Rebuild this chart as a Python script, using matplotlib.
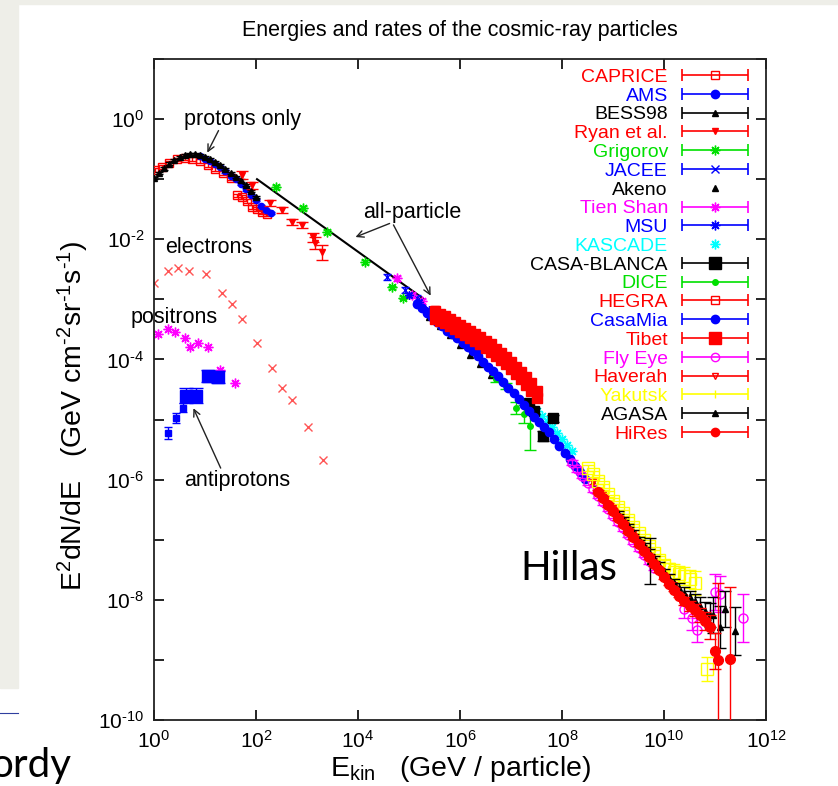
import numpy as np
import matplotlib
matplotlib.use('Agg')
import matplotlib.pyplot as plt
from matplotlib.patches import Rectangle
from matplotlib.lines import Line2D
from matplotlib.legend_handler import HandlerErrorbar
from matplotlib.container import ErrorbarContainer
from matplotlib.ticker import NullLocator

plt.rcParams['font.family'] = ['Liberation Sans', 'DejaVu Sans']
plt.rcParams['mathtext.default'] = 'regular'

# all values are log10(E / GeV) and log10(E^2 dN/dE)
# ---- low energy, protons only
caprice_lx = [0.02, 0.15, 0.3, 0.45, 0.6, 0.75, 0.9, 1.05, 1.2, 1.35, 1.5, 1.62, 1.72, 1.82, 1.92, 2.02, 2.12, 2.22]
caprice_ly = [-0.85, -0.8, -0.73, -0.67, -0.65, -0.66, -0.7, -0.76, -0.83, -0.9, -0.98, -1.27, -1.3, -1.36, -1.46, -1.5, -1.55, -1.58]
ams_lx = [0.9, 1.0, 1.1, 1.2, 1.3, 1.4, 1.5, 1.6, 1.7, 1.8, 1.9, 2.0, 2.1, 2.2, 2.3]
ams_ly = [-0.62, -0.66, -0.7, -0.75, -0.8, -0.87, -0.94, -1.0, -1.08, -1.17, -1.26, -1.35, -1.45, -1.52, -1.56]
bess_lx = [0.0, 0.1, 0.2, 0.3, 0.4, 0.5, 0.6, 0.7, 0.8, 0.9, 1.0, 1.1, 1.2, 1.3, 1.4, 1.5, 1.6, 1.7, 1.8, 1.9, 2.0]
bess_ly = [-0.98, -0.9, -0.82, -0.74, -0.68, -0.63, -0.6, -0.58, -0.58, -0.6, -0.63, -0.67, -0.71, -0.76, -0.83, -0.9, -0.96, -1.02, -1.1, -1.2, -1.3]
ryan_lx = [1.72, 1.92, 2.27, 2.5, 2.7, 2.9, 3.12, 3.15, 3.3]
ryan_ly = [-0.93, -1.1, -1.4, -1.52, -1.72, -1.77, -1.97, -2.07, -2.22]
ryan_err = [0.06, 0.06, 0.05, 0.05, 0.05, 0.05, 0.08, 0.1, 0.12]
grig_lx = [2.4, 2.93, 3.39, 4.14, 4.67, 4.88]
grig_ly = [-1.13, -1.48, -1.88, -2.38, -2.8, -2.97]

allpart_lx = [2.02, 5.3]
allpart_ly = [-1.0, -3.0]

# ---- electrons, positrons, antiprotons
elec_lx = [0.0, 0.27, 0.47, 0.69, 1.02, 1.33, 1.53, 1.72, 2.02, 2.31, 2.51, 2.71, 3.02, 3.31]
elec_ly = [-2.72, -2.52, -2.47, -2.52, -2.57, -2.9, -3.07, -3.32, -3.73, -4.15, -4.47, -4.68, -5.13, -5.68]
posi_lx = [0.08, 0.27, 0.41, 0.61, 0.7, 0.86, 1.06, 1.29, 1.59]
posi_ly = [-3.57, -3.5, -3.55, -3.65, -3.8, -3.73, -3.8, -4.18, -4.4]
pbar_lx = [0.27, 0.43, 0.57]
pbar_ly = [-5.23, -4.97, -4.8]
pbar_err = [0.1, 0.08, 0.07]
pbar_big_lx = [0.62, 0.82, 1.05, 1.25]
pbar_big_ly = [-4.6, -4.6, -4.27, -4.3]
pbar_big_err = [0.12, 0.12, 0.1, 0.1]

# ---- high energy, all-particle
jacee_lx = [4.57, 4.92, 5.15]
jacee_ly = [-2.63, -2.85, -2.98]
tien_lx = [4.76, 5.06, 5.25]
tien_ly = [-2.65, -2.93, -3.03]
msu_lx = [5.0, 5.2, 5.4, 5.6, 5.8, 6.0, 6.2, 6.4]
msu_ly = [-2.92, -3.05, -3.18, -3.3, -3.42, -3.55, -3.7, -3.85]
akeno_lx = [5.4, 5.6, 5.8, 6.0, 6.2, 6.4, 6.6, 8.4, 8.6, 8.8, 9.0, 9.2, 9.4]
akeno_ly = [-3.3, -3.45, -3.6, -3.76, -3.92, -4.08, -4.26, -5.85, -6.06, -6.28, -6.5, -6.72, -6.93]
kascade_lx = [7.5, 7.6, 7.7, 7.8, 7.9, 8.0, 8.1, 8.2]
kascade_ly = [-4.85, -4.94, -5.03, -5.12, -5.22, -5.32, -5.42, -5.52]
casab_lx = [7.35, 7.45, 7.63, 7.82]
casab_ly = [-4.72, -4.85, -5.27, -4.98]
casab_err = [0.05, 0.05, 0.08, 0.06]
dice_lx = [6.7, 6.9, 7.1, 7.25, 7.37]
dice_ly = [-4.32, -4.45, -4.8, -4.9, -5.1]
dice_err = [0.05, 0.05, 0.1, 0.15, 0.4]
hegra_lx = [5.5, 5.7, 5.9, 6.1, 6.3, 6.5]
hegra_ly = [-3.18, -3.28, -3.38, -3.5, -3.62, -3.74]
casamia_lx = [5.15, 5.25, 5.35, 5.45, 5.55, 5.65, 5.75, 5.85, 5.95, 6.05, 6.15, 6.25, 6.35, 6.45, 6.55, 6.65, 6.75,
              6.85, 6.95, 7.05, 7.15, 7.25, 7.35, 7.45, 7.55, 7.65, 7.75, 7.85, 7.95, 8.05, 8.15, 8.25, 8.35, 8.45]
casamia_ly = [-3.08, -3.15, -3.22, -3.3, -3.38, -3.45, -3.52, -3.58, -3.65, -3.72, -3.79, -3.86, -3.94, -4.04, -4.12,
              -4.2, -4.28, -4.37, -4.47, -4.56, -4.66, -4.76, -4.86, -4.96, -5.04, -5.12, -5.21, -5.32, -5.44, -5.55,
              -5.66, -5.77, -5.88, -5.99]
tibet_lx = [5.5, 5.6, 5.7, 5.8, 5.9, 6.0, 6.1, 6.2, 6.3, 6.4, 6.5, 6.6, 6.7, 6.8, 6.9, 7.0, 7.1, 7.2, 7.3, 7.4, 7.5,
            5.5, 5.6, 5.7, 5.8, 5.9, 6.0, 6.1, 6.2, 6.3, 6.4, 6.5, 6.6, 6.7, 6.8, 6.9, 7.0, 7.1, 7.2, 7.3, 7.4, 7.5]
tibet_ly = [-3.2, -3.24, -3.28, -3.32, -3.37, -3.42, -3.47, -3.52, -3.57, -3.63, -3.69, -3.75, -3.82, -3.89, -3.96,
            -4.04, -4.12, -4.21, -4.3, -4.4, -4.52,
            -3.32, -3.36, -3.4, -3.44, -3.49, -3.54, -3.59, -3.64, -3.69, -3.75, -3.81, -3.87, -3.94, -4.01, -4.08,
            -4.16, -4.24, -4.33, -4.42, -4.52, -4.64]
flyeye_lx = [8.2, 8.3, 8.4, 8.5, 8.6, 8.7, 8.8, 8.9, 9.0, 9.1, 9.2, 9.3, 9.4, 9.5, 9.6, 9.7, 9.8,
             10.4, 10.55, 10.65, 11.0, 11.1, 11.55]
flyeye_ly = [-5.72, -5.83, -5.94, -6.05, -6.16, -6.27, -6.38, -6.49, -6.6, -6.71, -6.81, -6.92, -7.03, -7.14, -7.25,
             -7.36, -7.47, -8.15, -8.3, -8.5, -7.87, -7.9, -8.3]
flyeye_err = [0.04] * 17 + [0.15, 0.2, 0.2, 0.3, 0.3, 0.4]
haverah_lx = [8.6, 8.8, 9.0, 9.2, 9.4, 9.6, 9.8, 10.0, 10.2, 10.4, 10.6]
haverah_ly = [-6.04, -6.26, -6.48, -6.69, -6.91, -7.13, -7.35, -7.57, -7.76, -7.95, -8.1]
yakutsk_lx = [8.5, 8.6, 8.7, 8.8, 8.9, 9.0, 9.1, 9.2, 9.3, 9.4, 9.5, 9.6, 9.7, 9.8, 9.9, 10.0, 10.1, 10.2, 10.3,
              10.4, 10.5, 10.6, 10.85]
yakutsk_ly = [-5.8, -5.91, -6.02, -6.13, -6.24, -6.35, -6.46, -6.56, -6.67, -6.78, -6.89, -7.0, -7.11, -7.22, -7.33,
              -7.42, -7.48, -7.53, -7.57, -7.6, -7.65, -7.72, -9.15]
yakutsk_err = [0.05] * 14 + [0.06, 0.08, 0.1, 0.12, 0.14, 0.15, 0.15, 0.2, 0.2]
agasa_lx = [9.1, 9.2, 9.3, 9.4, 9.5, 9.6, 9.7, 9.72, 9.8, 9.9, 10.0, 10.1, 10.2, 10.3, 10.4, 10.5, 10.6, 10.7, 10.8,
            10.9, 10.96, 11.1, 11.2, 11.4]
agasa_ly = [-6.55, -6.65, -6.76, -6.87, -6.98, -7.09, -7.2, -7.35, -7.31, -7.42, -7.53, -7.63, -7.72, -7.8, -7.88,
            -7.95, -8.02, -8.1, -8.18, -8.25, -8.25, -8.45, -8.15, -8.52]
agasa_err = [0.03, 0.03, 0.03, 0.03, 0.03, 0.03, 0.04, 0.38, 0.04, 0.05, 0.05, 0.06, 0.07, 0.08, 0.1, 0.1, 0.12,
             0.14, 0.15, 0.2, 0.3, 0.35, 0.3, 0.4]
hires_lx = [8.7, 8.8, 8.9, 9.0, 9.1, 9.2, 9.3, 9.4, 9.5, 9.6, 9.7, 9.8, 9.9, 10.0, 10.1, 10.2, 10.3, 10.4, 10.5,
            10.6, 10.7, 10.8, 10.9, 11.0, 11.05, 11.3]
hires_ly = [-6.2, -6.31, -6.42, -6.53, -6.64, -6.74, -6.85, -6.96, -7.07, -7.18, -7.29, -7.4, -7.51, -7.62, -7.73,
            -7.83, -7.93, -8.02, -8.1, -8.17, -8.25, -8.35, -8.45, -8.85, -9.0, -8.98]
hires_err_lo = [0.03] * 17 + [0.06, 0.08, 0.1, 0.12, 0.15, 0.2, 0.3, 3.0, 3.0]
hires_err_hi = [0.03] * 17 + [0.06, 0.08, 0.1, 0.12, 0.15, 0.2, 0.3, 1.28, 1.2]

RED, BLUE, GREEN, MAG, CYAN, YEL, BLK = '#ff0000', '#0000ff', '#00e000', '#ff00ff', '#00ffff', '#ffff00', '#000000'
STAR = (8, 2, 0)
HYPH = '\u2010'

fig = plt.figure(figsize=(8.38, 7.86), dpi=100)
fig.patch.set_facecolor('white')
fig.patches.append(Rectangle((0, 1 - 4 / 786), 1, 4 / 786, transform=fig.transFigure,
                             color='#eeeee8', zorder=-5))
fig.patches.append(Rectangle((0, 98 / 786), 18 / 838, 1 - 98 / 786, transform=fig.transFigure,
                             color='#eeeee8', zorder=-5))
fig.lines.append(Line2D([0, 18 / 838], [73 / 786, 73 / 786], transform=fig.transFigure,
                        color='#2f3f9f', lw=0.8))

ax = fig.add_axes([154 / 838, 66 / 786, 612 / 838, 661 / 786])
ax.set_xscale('log')
ax.set_yscale('log')


def plot_set(lx, ly, err, color, marker, ms, mfc=None, cap=3.0, z=2, alpha=1.0):
    lx = np.asarray(lx, dtype=float)
    ly = np.asarray(ly, dtype=float)
    x = 10.0 ** lx
    y = 10.0 ** ly
    face = color if mfc is None else mfc
    if err is None:
        ax.plot(x, y, ls='none', marker=marker, color=color, ms=ms, mfc=face, mew=1.0,
                zorder=z, alpha=alpha)
        return
    if isinstance(err, tuple):
        elo, ehi = np.asarray(err[0], float), np.asarray(err[1], float)
    else:
        elo = ehi = np.asarray(err, dtype=float) * np.ones_like(ly)
    lo = y - 10.0 ** (ly - elo)
    hi = 10.0 ** (ly + ehi) - y
    ax.errorbar(x, y, yerr=[lo, hi], marker=marker, ls='none', color=color, ms=ms, mfc=face,
                mew=1.0, capsize=cap, elinewidth=1.0, capthick=1.0, zorder=z, alpha=alpha)


# extra curves
plot_set(elec_lx, elec_ly, None, '#ff5555', 'x', 6, z=2)
plot_set(posi_lx, posi_ly, None, MAG, STAR, 7, z=2)
plot_set(pbar_lx, pbar_ly, pbar_err, BLUE, 's', 4, z=2)
plot_set(pbar_big_lx, pbar_big_ly, pbar_big_err, BLUE, 's', 8, z=2, cap=5)

ax.plot(10.0 ** np.asarray(allpart_lx), 10.0 ** np.asarray(allpart_ly), color='black', lw=1.5, zorder=3)

# experiments in legend order
legend_specs = [
    ('CAPRICE', RED, 's', 6, 'none', True),
    ('AMS', BLUE, 'o', 6, None, True),
    ('BESS98', BLK, '^', 5, None, True),
    ('Ryan et al.', RED, 'v', 5, None, True),
    ('Grigorov', GREEN, STAR, 7, None, True),
    ('JACEE', BLUE, 'x', 6, None, True),
    ('Akeno', BLK, '^', 5, None, False),
    ('Tien Shan', MAG, STAR, 7, None, True),
    ('MSU', BLUE, STAR, 7, None, True),
    ('KASCADE', CYAN, STAR, 7, None, False),
    ('CASA-BLANCA', BLK, 's', 8, None, True),
    ('DICE', GREEN, 'o', 4, None, True),
    ('HEGRA', RED, 's', 6, 'none', True),
    ('CasaMia', BLUE, 'o', 6, None, True),
    ('Tibet', RED, 's', 8, None, True),
    ('Fly Eye', MAG, 'o', 6, 'none', True),
    ('Haverah', RED, 'v', 5, 'none', True),
    ('Yakutsk', YEL, '|', 6, None, True),
    ('AGASA', BLK, '^', 5, None, True),
    ('HiRes', RED, 'o', 6, None, True),
]

plot_set(caprice_lx, caprice_ly, 0.03, RED, 's', 6, mfc='none', z=4)
plot_set(ams_lx, ams_ly, 0.02, BLUE, 'o', 4.5, z=4)
plot_set(bess_lx, bess_ly, 0.02, BLK, '^', 5, z=5)
plot_set(ryan_lx, ryan_ly, ryan_err, RED, 'v', 4.5, z=5, cap=4)
plot_set(grig_lx, grig_ly, 0.03, GREEN, STAR, 7, z=5)
plot_set(jacee_lx, jacee_ly, 0.05, BLUE, 'x', 5, z=5)
plot_set(akeno_lx, akeno_ly, None, BLK, '^', 4.5, z=5)
plot_set(tien_lx, tien_ly, 0.04, MAG, STAR, 7, z=5)
plot_set(msu_lx, msu_ly, 0.03, BLUE, STAR, 6, z=5)
plot_set(kascade_lx, kascade_ly, None, CYAN, STAR, 7, z=5)
plot_set(casab_lx, casab_ly, casab_err, BLK, 's', 7, z=5, cap=4)
plot_set(dice_lx, dice_ly, dice_err, GREEN, 'o', 4, z=5, cap=4)
plot_set(hegra_lx, hegra_ly, 0.03, RED, 's', 6, mfc='none', z=5)
plot_set(casamia_lx, casamia_ly, 0.02, BLUE, 'o', 6, z=5)
plot_set(tibet_lx, tibet_ly, 0.02, RED, 's', 7, z=6)
plot_set(flyeye_lx, flyeye_ly, flyeye_err, MAG, 'o', 6.5, mfc='none', z=6, cap=4)
plot_set(haverah_lx, haverah_ly, 0.03, RED, 'v', 5, z=6)
plot_set(yakutsk_lx, yakutsk_ly, yakutsk_err, YEL, 's', 8, mfc='none', z=6, cap=4)
plot_set(agasa_lx, agasa_ly, agasa_err, BLK, '^', 4.5, z=7, cap=4)
plot_set(hires_lx, hires_ly, (hires_err_lo, hires_err_hi), RED, 'o', 7, z=8, cap=4)

# annotations
arrow_kw = dict(arrowstyle='->', lw=1.0, color='#222222', mutation_scale=12)
ax.text(10 ** 1.73, 10 ** 0.0, 'protons only', ha='center', va='center', fontsize=15.5)
ax.annotate('', xy=(10 ** 1.02, 10 ** -0.6), xytext=(10 ** 1.29, 10 ** -0.15), arrowprops=arrow_kw)
ax.text(10 ** 5.06, 10 ** -1.55, 'all-particle', ha='center', va='center', fontsize=15.5)
ax.annotate('', xy=(10 ** 3.9, 10 ** -1.98), xytext=(10 ** 4.67, 10 ** -1.72), arrowprops=arrow_kw)
ax.annotate('', xy=(10 ** 5.45, 10 ** -2.98), xytext=(10 ** 4.67, 10 ** -1.72), arrowprops=arrow_kw)
ax.text(10 ** 0.22, 10 ** -2.13, 'electrons', ha='left', va='center', fontsize=15.5)
ax.text(10 ** 0.39, 10 ** -3.3, 'positrons', ha='center', va='center', fontsize=15.5)
ax.text(10 ** 1.63, 10 ** -6.02, 'antiprotons', ha='center', va='center', fontsize=15.5)
ax.annotate('', xy=(10 ** 0.75, 10 ** -4.77), xytext=(10 ** 1.33, 10 ** -5.85), arrowprops=arrow_kw)

# axes
ax.set_xlim(1e0, 1e12)
ax.set_ylim(1e-10, 1e1)
ax.set_xticks([10.0 ** k for k in range(0, 13, 2)])
ax.set_xticklabels(['$10^{%d}$' % k for k in range(0, 13, 2)])
yk = list(range(-10, 2))
ax.set_yticks([10.0 ** k for k in yk])
ax.set_yticklabels([('$10^{%s}$' % str(k).replace('-', HYPH)) if k % 2 == 0 else '' for k in yk])
ax.xaxis.set_minor_locator(NullLocator())
ax.yaxis.set_minor_locator(NullLocator())
ax.tick_params(direction='in', length=7, width=1.2, top=True, right=True, labelsize=15, pad=7)
for s in ax.spines.values():
    s.set_linewidth(1.3)
    s.set_color('#222222')

# legend
handles, names = [], []
for name, col, mk, ms, mfc, bar in legend_specs:
    face = col if mfc is None else mfc
    if bar:
        h = ax.errorbar([np.nan], [np.nan], xerr=[1.0], marker=mk, ls='none', color=col, ms=ms, mfc=face,
                        capsize=4, elinewidth=1.2, capthick=1.2)
    else:
        h = Line2D([], [], ls='none', marker=mk, color=col, ms=ms, mfc=face)
    handles.append(h)
    names.append(name)
leg = ax.legend(handles, names, loc='upper right', bbox_to_anchor=(0.97, 0.986), frameon=False,
                markerfirst=False, fontsize=14, handlelength=3.4, handletextpad=0.7, labelspacing=0.06,
                borderpad=0, borderaxespad=0, numpoints=1,
                handler_map={ErrorbarContainer: HandlerErrorbar(xerr_size=1.7)})
for t, spec in zip(leg.get_texts(), legend_specs):
    t.set_color(spec[1])

# titles and labels
fig.text(460 / 838, 1 - 36 / 786, 'Energies and rates of the cosmic-ray particles', ha='center',
         va='baseline', fontsize=15.5)
ylab = r'E$^2$dN/dE   (GeV cm$^{H2}$sr$^{H1}$s$^{H1}$)'.replace('H', HYPH)
fig.text(73 / 838, 1 - 416 / 786, ylab, rotation=90, ha='center', va='center', fontsize=20.5)
fig.text(461 / 838, 1 - 776 / 786, r'E$_{kin}$   (GeV / particle)', ha='center', va='baseline', fontsize=20.5)

# slide text
fig.text(520 / 838, 1 - 580 / 786, 'Hillas', ha='left', va='baseline', fontsize=29, family='Lato')
fig.text(-10 / 838, 1 - 777 / 786, 'ordy', ha='left', va='baseline', fontsize=29, family='Lato')

fig.savefig('out.png', dpi=100)
